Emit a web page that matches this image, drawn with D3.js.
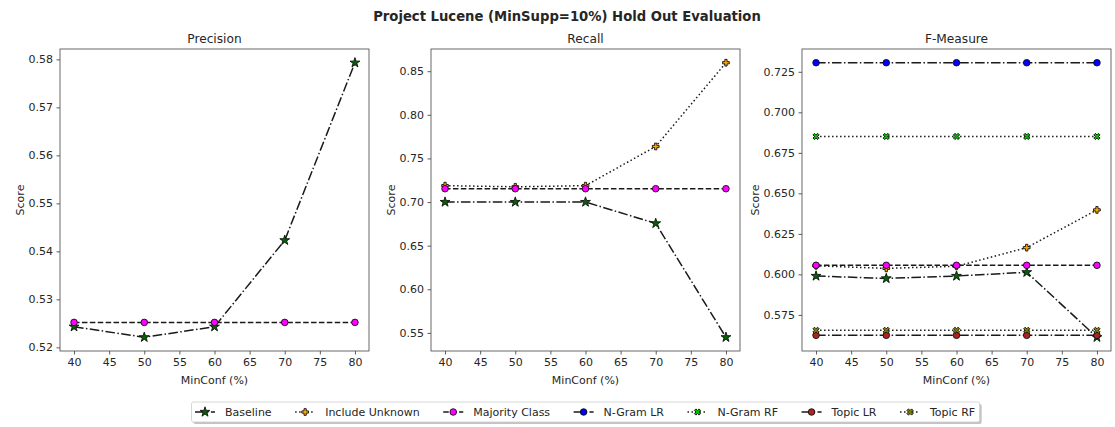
<!DOCTYPE html>
<html><head><meta charset="utf-8">
<script src="https://cdn.jsdelivr.net/npm/d3@7"></script>
<style>
body{margin:0;background:#fff}
text{font-family:"DejaVu Sans",sans-serif;fill:#262626}
</style>
</head><body>
<svg id="chart" width="1115" height="427"></svg>
<script>
// MinConf thresholds (x values) and tick labels
const minConf = [40, 50, 60, 70, 80];
const xTicks = [40, 45, 50, 55, 60, 65, 70, 75, 80];

// Precision
const precisionBaseline = [0.5243, 0.5221, 0.5243, 0.5423, 0.5793];
const precisionMajority = [0.5252, 0.5252, 0.5252, 0.5252, 0.5252];

// Recall
const recallBaseline = [0.7000, 0.7000, 0.7000, 0.6755, 0.5450];
const recallIncludeUnknown = [0.7188, 0.7175, 0.7188, 0.7637, 0.8597];
const recallMajority = [0.7153, 0.7153, 0.7153, 0.7153, 0.7153];

// F-Measure
const fBaseline = [0.5990, 0.5975, 0.5990, 0.6013, 0.5612];
const fIncludeUnknown = [0.6053, 0.6037, 0.6050, 0.6165, 0.6398];
const fMajority = [0.6056, 0.6056, 0.6056, 0.6056, 0.6056];
const fNgramLR = [0.7306, 0.7306, 0.7306, 0.7306, 0.7306];
const fNgramRF = [0.6851, 0.6851, 0.6851, 0.6851, 0.6851];
const fTopicLR = [0.5624, 0.5624, 0.5624, 0.5624, 0.5624];
const fTopicRF = [0.5655, 0.5655, 0.5655, 0.5655, 0.5655];

// Y tick labels per panel
const precisionTicks = [0.52, 0.53, 0.54, 0.55, 0.56, 0.57, 0.58];
const recallTicks = [0.55, 0.60, 0.65, 0.70, 0.75, 0.80, 0.85];
const fTicks = [0.575, 0.600, 0.625, 0.650, 0.675, 0.700, 0.725];

const seriesNames = ["Baseline", "Include Unknown", "Majority Class", "N-Gram LR", "N-Gram RF", "Topic LR", "Topic RF"];
const chartTitle = "Project Lucene (MinSupp=10%) Hold Out Evaluation";

// Visual style for each series
const DASHDOT = "9.6,2.4,1.5,2.4", DOTTED = "1.5,2.5", DASHED = "5.5,2.4";
const styles = {
  "Baseline":        {fill: "#006400", marker: "star",   dash: DASHDOT},
  "Include Unknown": {fill: "#ffa500", marker: "plus",   dash: DOTTED},
  "Majority Class":  {fill: "#ff00ff", marker: "circle", dash: DASHED},
  "N-Gram LR":       {fill: "#0000ff", marker: "circle", dash: DASHDOT},
  "N-Gram RF":       {fill: "#00c000", marker: "x",      dash: DOTTED},
  "Topic LR":        {fill: "#b22222", marker: "circle", dash: DASHDOT},
  "Topic RF":        {fill: "#808000", marker: "x",      dash: DOTTED}
};

const panels = [
  {title: "Precision", ticks: precisionTicks, fmt: ".2f",
   series: [["Baseline", precisionBaseline], ["Majority Class", precisionMajority]]},
  {title: "Recall", ticks: recallTicks, fmt: ".2f",
   series: [["Baseline", recallBaseline], ["Include Unknown", recallIncludeUnknown], ["Majority Class", recallMajority]]},
  {title: "F-Measure", ticks: fTicks, fmt: ".3f",
   series: [["Baseline", fBaseline], ["Include Unknown", fIncludeUnknown], ["Majority Class", fMajority],
            ["N-Gram LR", fNgramLR], ["N-Gram RF", fNgramRF], ["Topic LR", fTopicLR], ["Topic RF", fTopicRF]]}
];

const svg = d3.select("#chart");
const axLefts = [60, 431, 802];
const axW = 309, axTop = 49, axBottom = 351;
const FS = 11;

function markerPath(kind) {
  if (kind === "star") return d3.symbol(d3.symbolStar, 30)();
  if (kind === "plus") return d3.symbol(d3.symbolCross, 25)();
  if (kind === "x") return d3.symbol(d3.symbolCross, 24)();
  return d3.symbol(d3.symbolCircle, 34)();
}
function drawMarker(g, name, x, y) {
  const st = styles[name];
  g.append("path")
    .attr("d", markerPath(st.marker))
    .attr("transform", `translate(${x},${y})` + (st.marker === "x" ? " rotate(45)" : ""))
    .attr("fill", st.fill)
    .attr("stroke", "#111")
    .attr("stroke-width", 0.9);
}

// Figure title
svg.append("text").attr("x", 567).attr("y", 20.5).attr("text-anchor", "middle")
  .attr("font-size", 13.2).attr("font-weight", "bold").attr("fill", "#000").text(chartTitle);

panels.forEach((p, i) => {
  const left = axLefts[i];
  const x = d3.scaleLinear().domain([38, 82]).range([left, left + axW]);
  const all = p.series.flatMap(s => s[1]);
  const [lo, hi] = d3.extent(all);
  const pad = (hi - lo) * 0.05;
  const y = d3.scaleLinear().domain([lo - pad, hi + pad]).range([axBottom, axTop]);

  const g = svg.append("g");

  // x axis
  const xa = g.append("g").attr("transform", `translate(0,${axBottom})`)
    .call(d3.axisBottom(x).tickValues(xTicks).tickFormat(d3.format("d")).tickSize(3.5).tickPadding(3.5));
  // y axis
  const ya = g.append("g").attr("transform", `translate(${left},0)`)
    .call(d3.axisLeft(y).tickValues(p.ticks).tickFormat(d3.format(p.fmt)).tickSize(3.5).tickPadding(3.5));
  [xa, ya].forEach(a => {
    a.select(".domain").remove();
    a.selectAll("line").attr("stroke", "#333").attr("stroke-width", 0.8);
    a.selectAll("text").attr("font-size", FS).attr("font-family", "DejaVu Sans").attr("fill", "#262626");
  });

  // frame
  g.append("rect").attr("x", left).attr("y", axTop).attr("width", axW).attr("height", axBottom - axTop)
    .attr("fill", "none").attr("stroke", "#444").attr("stroke-width", 0.8);

  // labels
  const tickW = ya.node().getBBox().width;
  const lx = left - tickW - 5;
  g.append("text").attr("transform", `translate(${lx},${(axTop + axBottom) / 2}) rotate(-90)`)
    .attr("text-anchor", "middle").attr("font-size", FS).text("Score");
  g.append("text").attr("x", left + axW / 2).attr("y", 384).attr("text-anchor", "middle")
    .attr("font-size", FS).text("MinConf (%)");
  g.append("text").attr("x", left + axW / 2).attr("y", 43).attr("text-anchor", "middle")
    .attr("font-size", 12.2).text(p.title);

  const line = d3.line().x((d, j) => x(minConf[j])).y(d => y(d));
  p.series.forEach(([name, vals]) => {
    const st = styles[name];
    g.append("path").datum(vals).attr("d", line)
      .attr("fill", "none").attr("stroke", "#1a1a1a").attr("stroke-width", 1.5)
      .attr("stroke-dasharray", st.dash);
    vals.forEach((v, j) => drawMarker(g, name, x(minConf[j]), y(v)));
  });
});

// Legend
const leg = svg.append("g");
const shadow = leg.append("rect"), frame = leg.append("rect");
const colGap = 23.5;
let cx = 195;
const ly = 412;
seriesNames.forEach(name => {
  const st = styles[name];
  leg.append("line").attr("x1", cx).attr("x2", cx + 20).attr("y1", ly).attr("y2", ly)
    .attr("stroke", "#1a1a1a").attr("stroke-width", 1.5).attr("stroke-dasharray", st.dash);
  drawMarker(leg, name, cx + 10, ly);
  const t = leg.append("text").attr("x", cx + 30).attr("y", ly + 4).attr("font-size", FS).text(name);
  cx += 30 + t.node().getComputedTextLength() + colGap;
});
const boxL = 191.5, boxR = cx - colGap + 4.5;
shadow.attr("x", boxL + 2).attr("y", 402 + 2).attr("width", boxR - boxL).attr("height", 20)
  .attr("rx", 2).attr("fill", "#888").attr("opacity", 0.5);
frame.attr("x", boxL).attr("y", 402).attr("width", boxR - boxL).attr("height", 20)
  .attr("rx", 2).attr("fill", "#fff").attr("stroke", "#ccc").attr("stroke-width", 0.8);
</script>
</body></html>
